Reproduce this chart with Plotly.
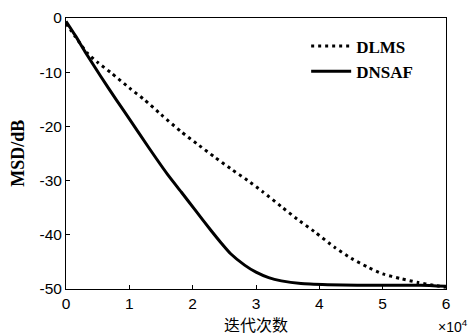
import plotly.graph_objects as go

# iterations in units of 10^4
dlms_x = [0, 0.15, 0.34, 0.5, 0.71, 1.0, 1.24, 1.5, 1.82, 2.1, 2.34, 2.6, 2.87, 3.1, 3.4,
          3.65, 3.92, 4.24, 4.5, 4.77, 5.0, 5.29, 5.56, 5.8, 6.0]
dlms_y = [-1.0, -3.5, -6.5, -8.2, -10.1, -12.9, -15.1, -17.8, -21.0, -23.5, -25.6, -27.8, -30.0,
          -32.0, -34.8, -37.1, -39.4, -42.3, -44.3, -46.0, -47.2, -48.1, -48.8, -49.3, -49.7]

dnsaf_x = [0, 0.15, 0.3, 0.55, 0.8, 1.0, 1.3, 1.6, 1.82, 2.05, 2.29, 2.45, 2.6, 2.82, 3.0,
           3.2, 3.4, 3.71, 4.13, 4.6, 5.2, 5.6, 6.0]
dnsaf_y = [-0.6, -3.3, -6.2, -10.8, -15.2, -18.6, -23.8, -28.8, -32.1, -35.6, -39.2, -41.5,
           -43.5, -45.6, -46.9, -47.9, -48.5, -49.0, -49.2, -49.3, -49.3, -49.3, -49.5]

x_ticks = [0, 1, 2, 3, 4, 5, 6]
y_ticks = [0, -10, -20, -30, -40, -50]

fig = go.Figure()
fig.add_trace(go.Scatter(x=dlms_x, y=dlms_y, mode="lines", name="<b>DLMS</b>",
                         line=dict(color="black", width=3, dash="3px,4px", shape="spline", smoothing=0.6)))
fig.add_trace(go.Scatter(x=dnsaf_x, y=dnsaf_y, mode="lines", name="<b>DNSAF</b>",
                         line=dict(color="black", width=3, shape="spline", smoothing=0.6)))

axis_common = dict(showgrid=False, zeroline=False, showline=True, linecolor="black",
                   linewidth=1, mirror=True, ticks="inside", ticklen=4, tickcolor="black",
                   automargin=False,
                   tickfont=dict(family="Liberation Sans, Arial", size=15.5, color="black"))

fig.update_layout(
    width=470, height=334,
    margin=dict(l=66, r=24, t=18, b=45),
    paper_bgcolor="white", plot_bgcolor="white",
    showlegend=True,
    legend=dict(x=0.632, y=0.961, xanchor="left", yanchor="top", bgcolor="rgba(0,0,0,0)",
                font=dict(family="Liberation Serif, Times New Roman", size=17, color="black"),
                tracegroupgap=0, itemwidth=40),
    xaxis=dict(range=[0, 6], tickvals=x_ticks, ticktext=[str(t) for t in x_ticks], **axis_common),
    yaxis=dict(range=[-50, 0], tickvals=y_ticks, ticktext=[str(t) for t in y_ticks], **axis_common),
)
fig.add_annotation(text="<b>MSD/dB</b>", xref="paper", yref="paper", x=-0.128, y=0.5,
                   xanchor="center", yanchor="middle", textangle=-90, showarrow=False,
                   font=dict(family="Liberation Serif, Times New Roman", size=18, color="black"))
fig.add_annotation(text="迭代次数", xref="paper", yref="paper", x=0.5, y=-0.168,
                   xanchor="center", yanchor="bottom", height=19, valign="middle", showarrow=False,
                   font=dict(family="Noto Sans CJK SC", size=16, color="black"))
fig.add_annotation(text="×10<sup>4</sup>", xref="paper", yref="paper", x=1.063, y=-0.096,
                   xanchor="right", yanchor="top", showarrow=False,
                   font=dict(family="Liberation Sans, Arial", size=14, color="black"))

fig.write_html("out.html")
